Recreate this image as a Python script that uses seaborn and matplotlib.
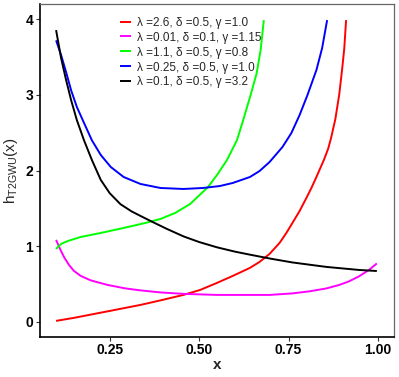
import numpy as np
import pandas as pd
import matplotlib
matplotlib.use("Agg")
import matplotlib.pyplot as plt
import seaborn as sns

labels = [
    "λ =2.6, δ =0.5, γ =1.0",
    "λ =0.01, δ =0.1, γ =1.15",
    "λ =1.1, δ =0.5, γ =0.8",
    "λ =0.25, δ =0.5, γ =1.0",
    "λ =0.1, δ =0.5, γ =3.2",
]
colors = ["#FF0000", "#FF00FF", "#00FF00", "#0000FF", "#000000"]

red_x = [0.100, 0.150, 0.244, 0.336, 0.392, 0.456, 0.503, 0.550, 0.594, 0.642, 0.669,
         0.697, 0.725, 0.744, 0.761, 0.781, 0.800, 0.814, 0.828, 0.839, 0.850, 0.861,
         0.869, 0.881, 0.892, 0.900, 0.906, 0.911]
red_y = [0.013, 0.053, 0.139, 0.224, 0.284, 0.356, 0.422, 0.515, 0.607, 0.713, 0.792,
         0.898, 1.043, 1.175, 1.307, 1.465, 1.637, 1.769, 1.914, 2.033, 2.152, 2.290,
         2.429, 2.680, 3.010, 3.340, 3.617, 3.987]

mag_x = [0.100, 0.111, 0.122, 0.136, 0.150, 0.169, 0.197, 0.244, 0.294, 0.336, 0.392,
         0.456, 0.550, 0.642, 0.697, 0.761, 0.808, 0.856, 0.892, 0.919, 0.947, 0.975, 0.997]
mag_y = [1.083, 0.964, 0.858, 0.752, 0.673, 0.607, 0.548, 0.488, 0.442, 0.416, 0.389,
         0.370, 0.356, 0.356, 0.356, 0.376, 0.403, 0.442, 0.488, 0.535, 0.601, 0.686, 0.772]

grn_x = [0.100, 0.114, 0.133, 0.169, 0.225, 0.289, 0.350, 0.392, 0.433, 0.475, 0.525,
         0.550, 0.578, 0.606, 0.625, 0.644, 0.661, 0.672, 0.681]
grn_y = [0.964, 1.030, 1.069, 1.122, 1.175, 1.241, 1.307, 1.360, 1.439, 1.558, 1.782,
         1.941, 2.139, 2.403, 2.693, 2.997, 3.287, 3.591, 3.987]

blu_x = [0.100, 0.114, 0.128, 0.142, 0.158, 0.178, 0.200, 0.225, 0.253, 0.289, 0.336,
         0.392, 0.456, 0.511, 0.558, 0.594, 0.642, 0.669, 0.697, 0.733, 0.758, 0.781,
         0.803, 0.828, 0.844, 0.858]
blu_y = [3.720, 3.525, 3.300, 3.060, 2.840, 2.630, 2.400, 2.205, 2.046, 1.914, 1.822,
         1.769, 1.756, 1.769, 1.795, 1.835, 1.914, 1.993, 2.112, 2.310, 2.495, 2.733,
         2.997, 3.327, 3.617, 3.987]

blk_x = [0.100, 0.114, 0.128, 0.142, 0.158, 0.178, 0.200, 0.225, 0.250, 0.280, 0.311,
         0.340, 0.372, 0.410, 0.456, 0.500, 0.550, 0.600, 0.642, 0.700, 0.761, 0.856,
         0.947, 0.997]
blk_y = [3.855, 3.485, 3.195, 2.930, 2.667, 2.400, 2.140, 1.875, 1.700, 1.555, 1.460,
         1.390, 1.315, 1.228, 1.130, 1.055, 0.985, 0.928, 0.888, 0.835, 0.785, 0.726,
         0.686, 0.672]

xticks = [0.25, 0.50, 0.75, 1.00]
xticklabels = ["0.25", "0.50", "0.75", "1.00"]
yticks = [0, 1, 2, 3, 4]

series = [(red_x, red_y), (mag_x, mag_y), (grn_x, grn_y), (blu_x, blu_y), (blk_x, blk_y)]
frames = []
for lab, (xs, ys) in zip(labels, series):
    frames.append(pd.DataFrame({"x": xs, "y": ys, "curve": lab}))
df = pd.concat(frames, ignore_index=True)

sns.set_theme(style="white")
plt.rcParams["font.family"] = ["Liberation Sans", "DejaVu Sans"]
plt.rcParams["mathtext.fontset"] = "custom"
plt.rcParams["mathtext.rm"] = "Liberation Sans"

fig = plt.figure(figsize=(3.99, 3.77), dpi=100)
ax = fig.add_axes([40/399, 1 - 337/377, 354/399, 333/377])

sns.lineplot(data=df, x="x", y="y", hue="curve", hue_order=labels,
             palette=colors, estimator=None, sort=True, linewidth=1.4, ax=ax)
for ln in ax.get_lines():
    ln.set_solid_joinstyle("round")
    ln.set_solid_capstyle("butt")

ax.set_xlim(0.055, 1.045)
ax.set_ylim(-0.2, 4.2)
ax.set_xticks(xticks)
ax.set_xticklabels(xticklabels)
ax.set_yticks(yticks)
for lbl in ax.get_xticklabels() + ax.get_yticklabels():
    lbl.set_fontweight("bold")
    lbl.set_fontsize(10)
    lbl.set_color("black")
ax.tick_params(axis="x", length=3, width=0.8, color="#333333", pad=1, bottom=True)
ax.tick_params(axis="y", length=3, width=0.8, color="#333333", pad=2, left=True)
ax.set_xlabel("x", fontsize=11, fontweight="bold", labelpad=1)
ax.set_ylabel(r"$\mathregular{h_{T2GWU}(x)}$", fontsize=11, labelpad=4)

for s in ["top", "right"]:
    ax.spines[s].set_color("#666666")
    ax.spines[s].set_linewidth(0.9)
for s in ["left", "bottom"]:
    ax.spines[s].set_color("black")
    ax.spines[s].set_linewidth(1.2)

leg = ax.legend(loc="upper left", bbox_to_anchor=(0.226, 0.962), frameon=False,
                fontsize=8.5, handlelength=0.9, handletextpad=0.5,
                labelspacing=0.25, borderaxespad=0.0, borderpad=0.0)

fig.savefig("out.png", dpi=100)
